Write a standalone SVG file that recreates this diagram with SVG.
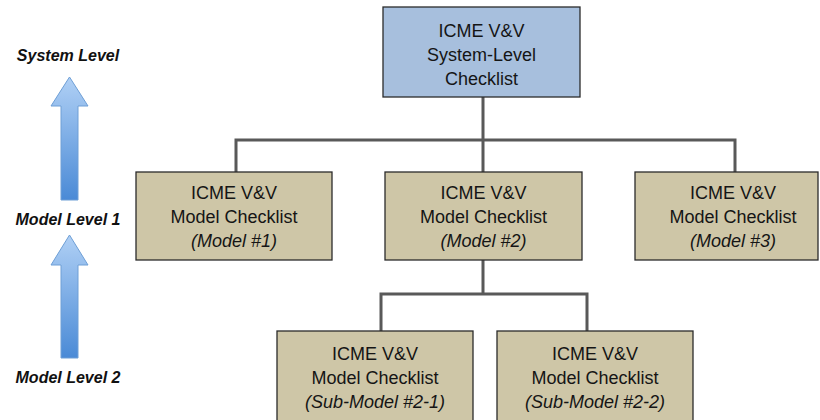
<svg xmlns="http://www.w3.org/2000/svg" width="820" height="420" viewBox="0 0 820 420">
  <style>
    .box { stroke: #2b2b2b; stroke-width: 1.3; }
    .sys { fill: #a7bfdd; }
    .mdl { fill: #cec6a7; }
    .t { font-family: "Liberation Sans", Arial, sans-serif; font-size: 18px; fill: #151515; text-anchor: middle; }
    .it { font-style: italic; }
    .lvl { font-family: "Liberation Sans", Arial, sans-serif; font-size: 16px; font-weight: bold; font-style: italic; fill: #111; text-anchor: middle; }
    .conn { fill: none; stroke: #595959; stroke-width: 3; stroke-linejoin: miter; }
    .up { fill: url(#blueUp); stroke: #6e9fd6; stroke-width: 1; }
  </style>
  <defs>
    <linearGradient id="blueUp" x1="0" y1="0" x2="0" y2="1">
      <stop offset="0" stop-color="#b0d0f5"/>
      <stop offset="1" stop-color="#4a8ad6"/>
    </linearGradient>
  </defs>

  <rect width="820" height="420" fill="#ffffff"/>

  <!-- level labels and upward arrows -->
  <g id="levels">
    <text class="lvl" x="68" y="61">System Level</text>
    <text class="lvl" x="68" y="225">Model Level 1</text>
    <text class="lvl" x="68" y="383">Model Level 2</text>
    <path class="up" d="M69.5,77 L88,106 L78,106 L78,200 L61,200 L61,106 L51,106 Z"/>
    <path class="up" d="M69.5,235 L88,265 L78,265 L78,358 L61,358 L61,265 L51,265 Z"/>
  </g>

  <!-- connectors -->
  <g id="connectors">
    <path class="conn" d="M483,97 V140 M236,172 V140 H735 V172 M483,140 V172"/>
    <path class="conn" d="M483,260 V294 M381,331 V294 H587 V331"/>
  </g>

  <g id="system">
    <rect class="box sys" x="383" y="7" width="197" height="90"/>
    <text class="t" x="481.5" y="37">ICME V&amp;V</text>
    <text class="t" x="481.5" y="61">System-Level</text>
    <text class="t" x="481.5" y="85">Checklist</text>
  </g>

  <g id="model1">
    <rect class="box mdl" x="136" y="172" width="196" height="88"/>
    <text class="t" x="234" y="199">ICME V&amp;V</text>
    <text class="t" x="234" y="223">Model Checklist</text>
    <text class="t it" x="234" y="247">(Model #1)</text>
  </g>

  <g id="model2">
    <rect class="box mdl" x="385" y="172" width="197" height="88"/>
    <text class="t" x="483.5" y="199">ICME V&amp;V</text>
    <text class="t" x="483.5" y="223">Model Checklist</text>
    <text class="t it" x="483.5" y="247">(Model #2)</text>
  </g>

  <g id="model3">
    <rect class="box mdl" x="635" y="172" width="183" height="88"/>
    <text class="t" x="733" y="199">ICME V&amp;V</text>
    <text class="t" x="733" y="223">Model Checklist</text>
    <text class="t it" x="733" y="247">(Model #3)</text>
  </g>

  <g id="submodel21">
    <rect class="box mdl" x="277" y="331" width="196" height="100"/>
    <text class="t" x="375" y="360">ICME V&amp;V</text>
    <text class="t" x="375" y="384">Model Checklist</text>
    <text class="t it" x="375" y="408">(Sub-Model #2-1)</text>
  </g>

  <g id="submodel22">
    <rect class="box mdl" x="497" y="331" width="196" height="100"/>
    <text class="t" x="595" y="360">ICME V&amp;V</text>
    <text class="t" x="595" y="384">Model Checklist</text>
    <text class="t it" x="595" y="408">(Sub-Model #2-2)</text>
  </g>
</svg>
